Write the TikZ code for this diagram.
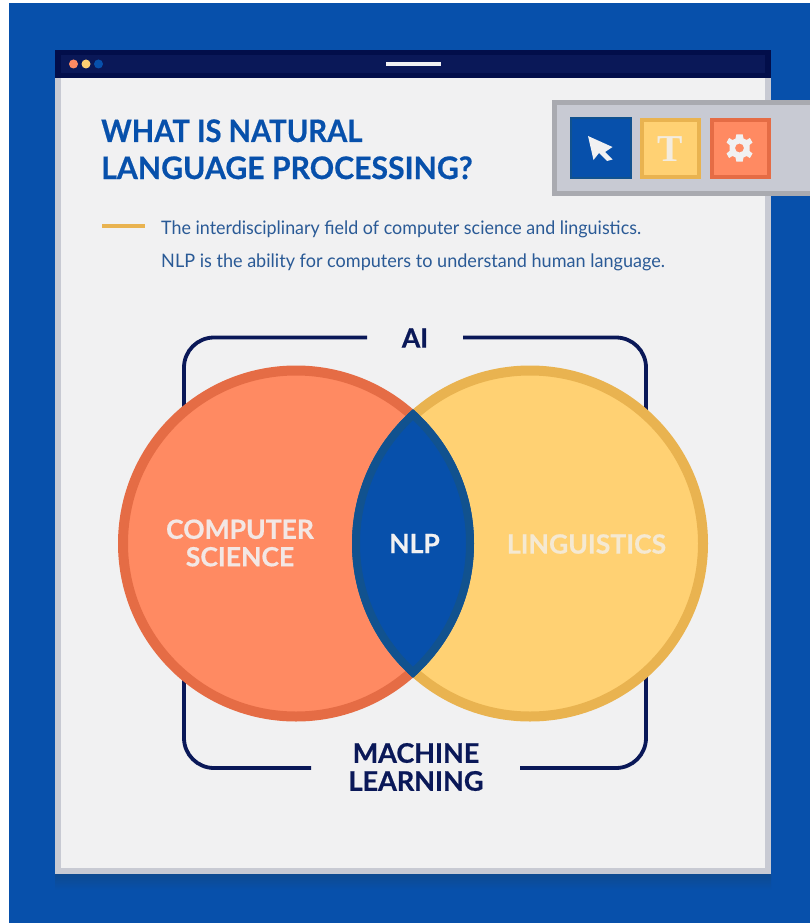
\documentclass[tikz,border=0pt]{standalone}
\usepackage{fontspec}
\usepackage{graphicx}
\setmainfont{Lato}
\newfontfamily\headfont[FakeBold=0.6]{Lato Bold}
\newfontfamily\bodyfont{Lato}
\newfontfamily\serifT{Liberation Serif}
\definecolor{bgblue}{HTML}{0750AB}
\definecolor{shadowblue}{HTML}{0E4A90}
\definecolor{edgeblue}{HTML}{11528F}
\definecolor{navy}{HTML}{0A1858}
\definecolor{navydark}{HTML}{020E4A}
\definecolor{page}{HTML}{F1F1F2}
\definecolor{band}{HTML}{C8CAD3}
\definecolor{bandedge}{HTML}{A9AAB0}
\definecolor{coral}{HTML}{FF8A62}
\definecolor{coraledge}{HTML}{E56C45}
\definecolor{sand}{HTML}{FFD173}
\definecolor{sandedge}{HTML}{E9B350}
\definecolor{bodyblue}{HTML}{2A5A96}
\tikzset{
  bracket/.style={draw=navy,line width=3.8pt,rounded corners=30pt},
  toolbtn/.style={line width=4pt,inner sep=0pt},
  headtext/.style={font=\headfont\fontsize{#1}{#1}\selectfont,inner sep=0pt,align=center},
  bodytext/.style={font=\bodyfont\fontsize{18.6}{18.6}\selectfont,text=bodyblue,inner sep=0pt,anchor=base west}
}
\begin{document}
\begin{tikzpicture}[x=1pt,y=-1pt]
\useasboundingbox (0,0) rectangle (810,923);
\fill[white] (0,0) rectangle (810,923);
\fill[bgblue] (9,3) rectangle (810,923);
% window
\shade[top color=shadowblue,bottom color=bgblue] (55,874) rectangle (771,890);
\fill[band] (55,78) rectangle (771,874);
\fill[page] (61,78) rectangle (765,868);
\fill[navydark] (55,50) rectangle (771,78);
\fill[navy] (61,55) rectangle (765,73);
\fill[coral] (73.5,64) circle (4.5);
\fill[sand] (86,64) circle (4.5);
\fill[bgblue] (98.5,64) circle (4.5);
\fill[page] (386,61.8) rectangle (441,65.8);
% toolbar
\fill[band] (554,102) rectangle (810,194);
\draw[bandedge,line width=5pt] (810,102.5) -- (554.5,102.5) -- (554.5,193.5) -- (810,193.5);
\filldraw[toolbtn,fill=bgblue,draw=edgeblue,line width=2pt] (570.5,118.5) rectangle (630.5,178);
\filldraw[toolbtn,fill=sand,draw=sandedge] (641.5,120) rectangle (699,176.5);
\filldraw[toolbtn,fill=coral,draw=coraledge] (711.5,120) rectangle (768.5,176.5);
\fill[page] (588,136) -- (612.5,147) -- (605,152) -- (612.5,159.5) -- (607,161) -- (599,153) -- (593.5,160) -- cycle;
\node[font=\serifT\bfseries\fontsize{38}{38}\selectfont,text=page!85!sand,inner sep=0pt,anchor=base] (tbtn) at (670,161) {T};
\begin{scope}[shift={(739.5,148)}]
  \fill[page,even odd rule] (0,0) circle (4.5)
    (-3.2,-13.5) -- (3.2,-13.5) -- (4,-9.5) -- (7,-8) -- (10.4,-10) -- (13,-5.5)
    -- (10,-3) -- (10,3) -- (13,5.5) -- (10.4,10) -- (7,8) -- (4,9.5) -- (3.2,13.5)
    -- (-3.2,13.5) -- (-4,9.5) -- (-7,8) -- (-10.4,10) -- (-13,5.5) -- (-10,3)
    -- (-10,-3) -- (-13,-5.5) -- (-10.4,-10) -- (-7,-8) -- (-4,-9.5) -- cycle;
\end{scope}
% heading
\node[headtext=31,text=bgblue,anchor=base west] (t1) at (101,142) {\scalebox{.939}[1]{WHAT IS NATURAL}};
\node[headtext=31,text=bgblue,anchor=base west] (t2) at (101,179) {\scalebox{.974}[1]{LANGUAGE PROCESSING?}};
\fill[sandedge] (102,224) rectangle (145,227.5);
\node[bodytext] (b1) at (161,234) {\scalebox{.962}[1]{The interdisciplinary field of computer science and linguistics.}};
\node[bodytext] (b2) at (161,267) {\scalebox{.971}[1]{NLP is the ability for computers to understand human language.}};
% brackets
\draw[bracket] (367,337.5) -- (184,337.5) -- (184,768) -- (311,768);
\draw[bracket] (463,337.5) -- (646,337.5) -- (646,768) -- (520,768);
% venn
\filldraw[fill=coral,draw=coraledge,line width=10pt] (296,543.5) circle (173);
\filldraw[fill=sand,draw=sandedge,line width=10pt] (530,543.5) circle (173);
\begin{scope}
  \clip (296,543.5) circle (178);
  \clip (530,543.5) circle (178);
  \fill[bgblue] (352,366) rectangle (474,721);
  \draw[edgeblue,line width=16pt] (296,543.5) circle (178);
  \draw[edgeblue,line width=16pt] (530,543.5) circle (178);
\end{scope}
\node[headtext=26.5,text=page!90!coral] (cs) at (240,543) {COMPUTER\\[1pt]SCIENCE};
\node[headtext=26.5,text=page] (nlp) at (414.5,543.5) {NLP};
\node[headtext=26.5,text=page!75!sand] (ling) at (586.5,544) {LINGUISTICS};
\node[headtext=26.5,text=navy] (ai) at (415,338) {AI};
\node[headtext=27,text=navy] (ml) at (416,767) {MACHINE\\[1pt]LEARNING};
\end{tikzpicture}
\end{document}
